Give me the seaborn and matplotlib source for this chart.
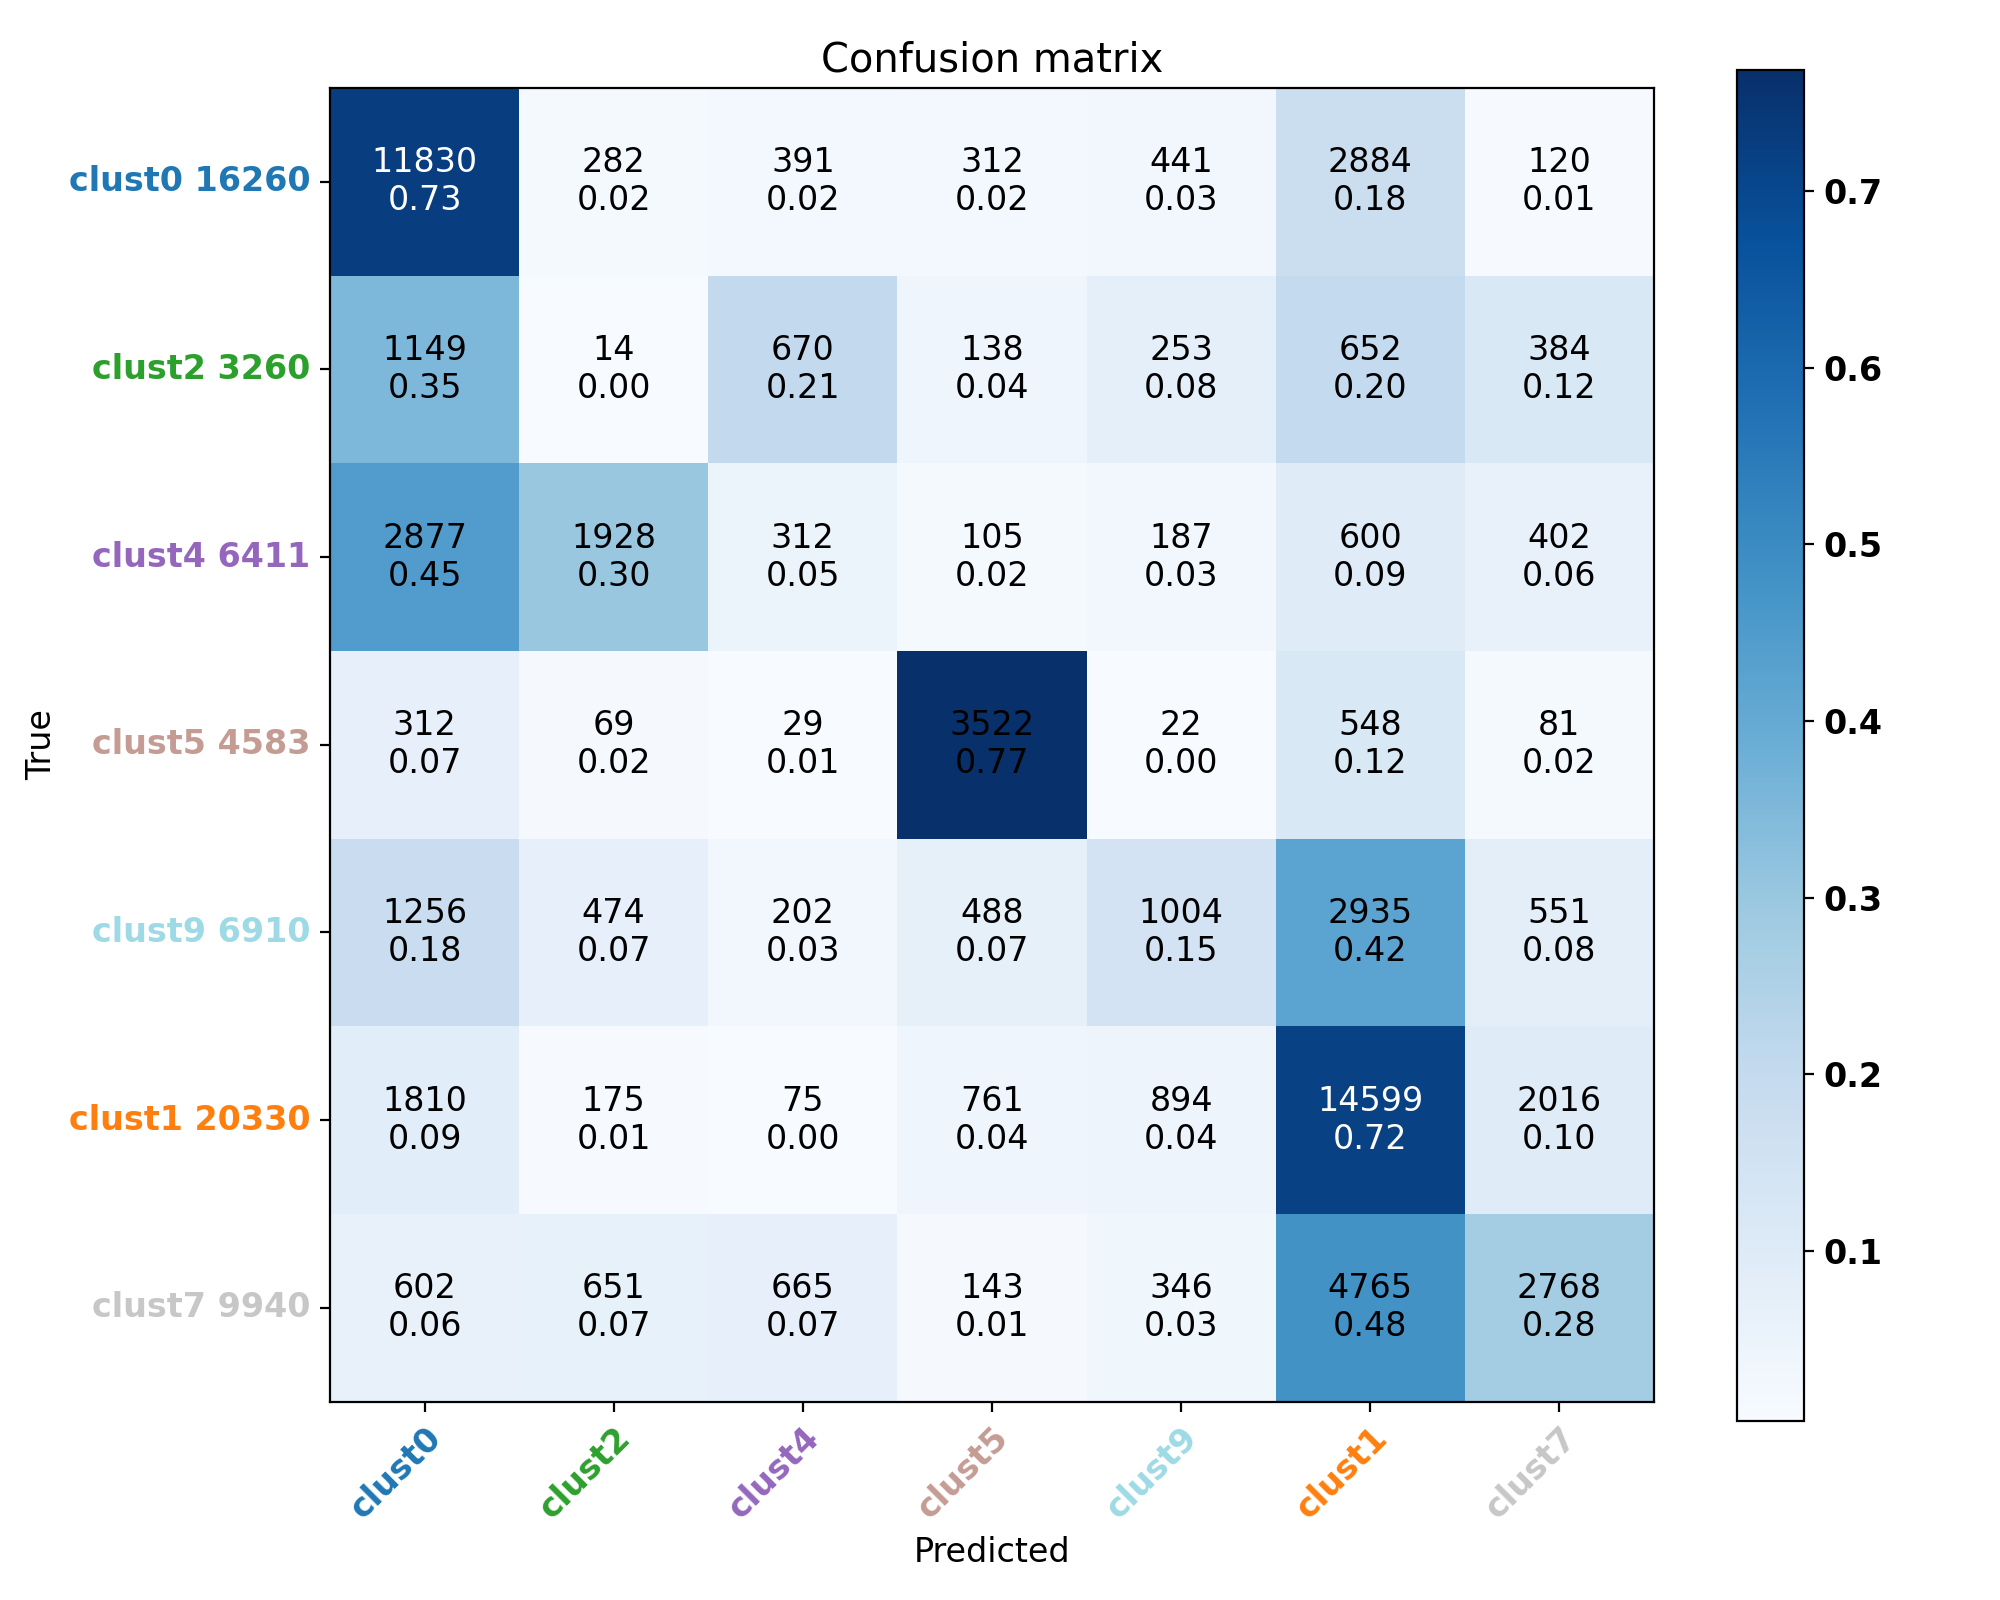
import numpy as np
import matplotlib
matplotlib.use("Agg")
import matplotlib.pyplot as plt
import seaborn as sns

# cluster order as shown on both axes
clusters = ["clust0", "clust2", "clust4", "clust5", "clust9", "clust1", "clust7"]
label_colors = ["#1f77b4", "#2ca02c", "#9467bd", "#c49c94", "#9edae5", "#ff7f0e", "#c7c7c7"]

# raw counts, rows = true, cols = predicted
counts = np.array([
    [11830, 282, 391, 312, 441, 2884, 120],
    [1149, 14, 670, 138, 253, 652, 384],
    [2877, 1928, 312, 105, 187, 600, 402],
    [312, 69, 29, 3522, 22, 548, 81],
    [1256, 474, 202, 488, 1004, 2935, 551],
    [1810, 175, 75, 761, 894, 14599, 2016],
    [602, 651, 665, 143, 346, 4765, 2768],
])

row_tot = counts.sum(axis=1)
norm = counts / row_tot[:, None]

annot = np.array([["%d\n%.2f" % (counts[i, j], norm[i, j]) for j in range(len(clusters))]
                  for i in range(len(clusters))])

plt.rcParams["font.size"] = 12
fig = plt.figure(figsize=(10, 8), dpi=200)
ax = fig.add_axes([0.165, 0.124, 0.662, 0.821])
cax = fig.add_axes([0.8686, 0.112, 0.0335, 0.844])

sns.heatmap(norm, ax=ax, cbar_ax=cax, cmap="Blues", annot=annot, fmt="",
            annot_kws={"fontsize": 12}, linewidths=0)

# white text on cells above half the max count
thresh = counts.max() / 2
for t, c in zip(ax.texts, counts.flatten()):
    t.set_color("white" if c > thresh else "black")

ax.set_xticklabels(clusters, rotation=45, ha="right", rotation_mode="anchor",
                   fontweight="bold")
ax.set_yticklabels(["%s %d" % (c, n) for c, n in zip(clusters, row_tot)],
                   rotation=0, fontweight="bold")
for lab, col in zip(ax.get_xticklabels(), label_colors):
    lab.set_color(col)
for lab, col in zip(ax.get_yticklabels(), label_colors):
    lab.set_color(col)

ax.set_title("Confusion matrix")
ax.set_xlabel("Predicted")
ax.set_ylabel("True")
for s in ax.spines.values():
    s.set_visible(True)
    s.set_linewidth(0.8)
ax.tick_params(length=3.5, width=0.8)

cb = ax.collections[0].colorbar
cb.outline.set_visible(True)
cb.outline.set_linewidth(0.8)
cb.set_ticks([0.1, 0.2, 0.3, 0.4, 0.5, 0.6, 0.7])
for lab in cax.get_yticklabels():
    lab.set_fontweight("bold")
    lab.set_fontsize(12)

plt.savefig("out.png", dpi=200)
